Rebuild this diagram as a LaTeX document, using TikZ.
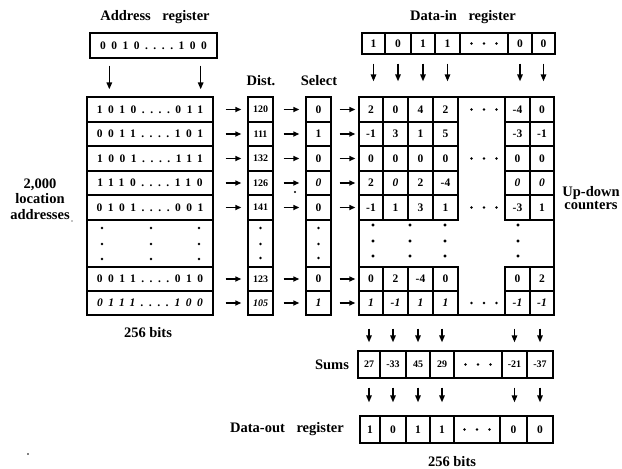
\documentclass[tikz,border=0pt]{standalone}
\usepackage{fontspec}
\setmainfont{Liberation Serif}
\newfontfamily\spc[LetterSpace=48]{Liberation Serif}
\usetikzlibrary{arrows.meta}
\newcommand\dts{....}
\newcommand\crow[9]{%
  \node[box,minimum width=24pt,minimum height=#3pt] (c#1-1) at (371,#2) {#4};
  \node[box,minimum width=25pt,minimum height=#3pt] (c#1-2) at (395.5,#2) {#5};
  \node[box,minimum width=25pt,minimum height=#3pt] (c#1-3) at (420.5,#2) {#6};
  \node[box,minimum width=25pt,minimum height=#3pt] (c#1-4) at (445.5,#2) {#7};
  \node[box,minimum width=25pt,minimum height=#3pt] (c#1-6) at (517.5,#2) {#8};
  \node[box,minimum width=24pt,minimum height=#3pt] (c#1-7) at (542,#2) {#9};
}
\newcommand\hdots[2]{\fill (#1-12.5,#2) circle (1.3pt) (#1,#2) circle (1.3pt) (#1+12.5,#2) circle (1.3pt);}
\begin{document}
\begin{tikzpicture}[x=1pt,y=-1pt,
  box/.style={draw, line width=1.35pt, inner sep=0pt, font=\bfseries\fontsize{11.5}{11.5}\selectfont},
  small/.style={font=\bfseries\fontsize{10}{10}\selectfont},
  harr/.style={-{Triangle[length=6pt,width=5pt]}, line width=1.5pt},
  varr/.style={-{Triangle[length=7pt,width=5.5pt]}, line width=1.5pt},
  lbl/.style={font=\bfseries\fontsize{14.5}{15.5}\selectfont, inner sep=0pt}
]
\useasboundingbox (0,0) rectangle (622,469);

% ---- labels
\node[lbl] (lAddr) at (155,17) {Address\hspace{0.8em}register};
\node[lbl] (lDin) at (463,17) {Data-in\hspace{0.8em}register};
\node[lbl] (lDist) at (261,81) {Dist.};
\node[lbl] (lSel) at (319,81) {Select};
\node[lbl, align=center] (lLoc) at (40,199) {2,000\\location\\addresses};
\node[lbl] (lBits1) at (148,333) {256 bits};
\node[lbl, align=center, font=\bfseries\fontsize{14.5}{13.5}\selectfont] (lUp) at (591,198) {Up-down\\counters};
\node[lbl] (lSums) at (332,365) {Sums};
\node[lbl] (lDout) at (287,429) {Data-out\hspace{0.8em}register};
\node[lbl] (lBits2) at (452,462) {256 bits};

% ---- address register
\node[box, minimum width=127pt, minimum height=25pt] (addr) at (153.5,45.5) {\spc 0010\dts 100};

% ---- memory
\foreach \n/\yc/\h/\t in {m1/109.5/25/{1010\dts 011}, m2/134/24/{0011\dts 101}, m3/158.5/25/{1001\dts 111},
    m4/183/24/{1110\dts 110}, m5/207.5/25/{0101\dts 001}, m7/279/24/{0011\dts 010}, m8/303/24/{\itshape 0111\dts 100}}
  \node[box, minimum width=126pt, minimum height=\h pt] (\n) at (150,\yc) {\spc\t};
\node[box, minimum width=126pt, minimum height=47pt] (m6) at (150,243.5) {};
\foreach \x in {102,151,199} \foreach \y in {228,244,259} \fill (\x,\y) circle (1.3pt);

% ---- distances
\foreach \n/\yc/\h/\t in {d1/109.5/25/120, d2/134/24/111, d3/158.5/25/132,
    d4/183/24/126, d5/207.5/25/141, d7/279/24/123, d8/303/24/{\itshape 105}}
  \node[box, small, minimum width=25pt, minimum height=\h pt] (\n) at (260.5,\yc) {\t};
\node[box, minimum width=25pt, minimum height=47pt] (d6) at (260.5,243.5) {};
\foreach \y in {228,244,258} \fill (260.5,\y) circle (1.3pt);

% ---- select
\foreach \n/\yc/\h/\t in {s1/109.5/25/0, s2/134/24/1, s3/158.5/25/0,
    s4/183/24/{\itshape 0}, s5/207.5/25/0, s7/279/24/0, s8/303/24/{\itshape 1}}
  \node[box, minimum width=25pt, minimum height=\h pt] (\n) at (318.5,\yc) {\t};
\node[box, minimum width=25pt, minimum height=47pt] (s6) at (318.5,243.5) {};
\foreach \y in {228,244,258} \fill (318.5,\y) circle (1.3pt);

% ---- counters
\node[draw, line width=1.35pt, inner sep=0pt, minimum width=195pt, minimum height=218pt] (grid) at (456.5,206) {};
\crow{1}{109.5}{25}{2}{0}{4}{2}{-4}{0}
\crow{2}{134}{24}{-1}{3}{1}{5}{-3}{-1}
\crow{3}{158.5}{25}{0}{0}{0}{0}{0}{0}
\crow{4}{183}{24}{2}{\itshape 0}{2}{-4}{\itshape 0}{\itshape 0}
\crow{5}{207.5}{25}{-1}{1}{3}{1}{-3}{1}
\crow{7}{279}{24}{0}{2}{-4}{0}{0}{2}
\crow{8}{303}{24}{\itshape 1}{\itshape -1}{\itshape 1}{\itshape 1}{\itshape -1}{\itshape -1}
\foreach \y in {109.5,158.5,207.5,303} \hdots{484}{\y}
\foreach \x in {373,410,445,518} \foreach \y in {225,241,256} \fill (\x,\y) circle (1.3pt);

% ---- data-in register
\foreach \n/\xc/\w/\t in {i1/373.5/23/1, i2/398/26/0, i3/423/24/1, i4/447.5/25/1,
    i6/520/24/0, i7/543.5/23/0}
  \node[box, minimum width=\w pt, minimum height=21pt] (\n) at (\xc,43.5) {\t};
\node[box, minimum width=48pt, minimum height=21pt] (i5) at (484,43.5) {};
\hdots{484}{43.5}

% ---- sums
\foreach \n/\xc/\w/\t in {u1/369/22/27, u2/393/26/-33, u3/418/24/45, u4/442/24/29,
    u6/514.5/25/-21, u7/540/26/-37}
  \node[box, small, minimum width=\w pt, minimum height=27pt] (\n) at (\xc,364.5) {\t};
\node[box, minimum width=48pt, minimum height=27pt] (u5) at (478,364.5) {};
\hdots{478}{364.5}

% ---- data-out register
\foreach \n/\xc/\w/\t in {o1/370/20/1, o2/393/26/0, o3/418/24/1, o4/442/24/1,
    o6/513.5/27/0, o7/540/26/0}
  \node[box, minimum width=\w pt, minimum height=27pt] (\n) at (\xc,429.5) {\t};
\node[box, minimum width=46pt, minimum height=27pt] (o5) at (477,429.5) {};
\hdots{477}{429.5}

% ---- arrows: address register to memory
\draw[varr, shorten <=7pt, shorten >=7pt] ([xshift=20pt]addr.south west) -- ([xshift=20pt]addr.south west |- m1.north);
\draw[varr, shorten <=7pt, shorten >=7pt] ([xshift=-17pt]addr.south east) -- ([xshift=-17pt]addr.south east |- m1.north);

% ---- horizontal arrows
\foreach \r in {1,2,3,4,5,7,8} {
  \draw[harr, shorten <=12pt, shorten >=6pt] (m\r.east) -- (d\r.west);
  \draw[harr, shorten <=10pt, shorten >=6pt] (d\r.east) -- (s\r.west);
  \draw[harr, shorten <=8pt, shorten >=3pt] (s\r.east) -- (c\r-1.west);
}

% ---- vertical arrows
\foreach \k in {1,2,3,4,6,7} {
  \draw[varr, shorten <=9pt, shorten >=15pt] (i\k.south) -- (i\k.south |- grid.north);
  \draw[varr, shorten <=13pt, shorten >=8pt] (u\k.north |- grid.south) -- (u\k.north);
  \draw[varr, shorten <=9pt, shorten >=13pt] (u\k.south) -- (u\k.south |- o\k.north);
}

% ---- stray marks of the original
\fill (295,192) circle (1.2pt);
\fill (28,454) circle (0.8pt);
\fill (72,221) circle (0.6pt);
\end{tikzpicture}
\end{document}
